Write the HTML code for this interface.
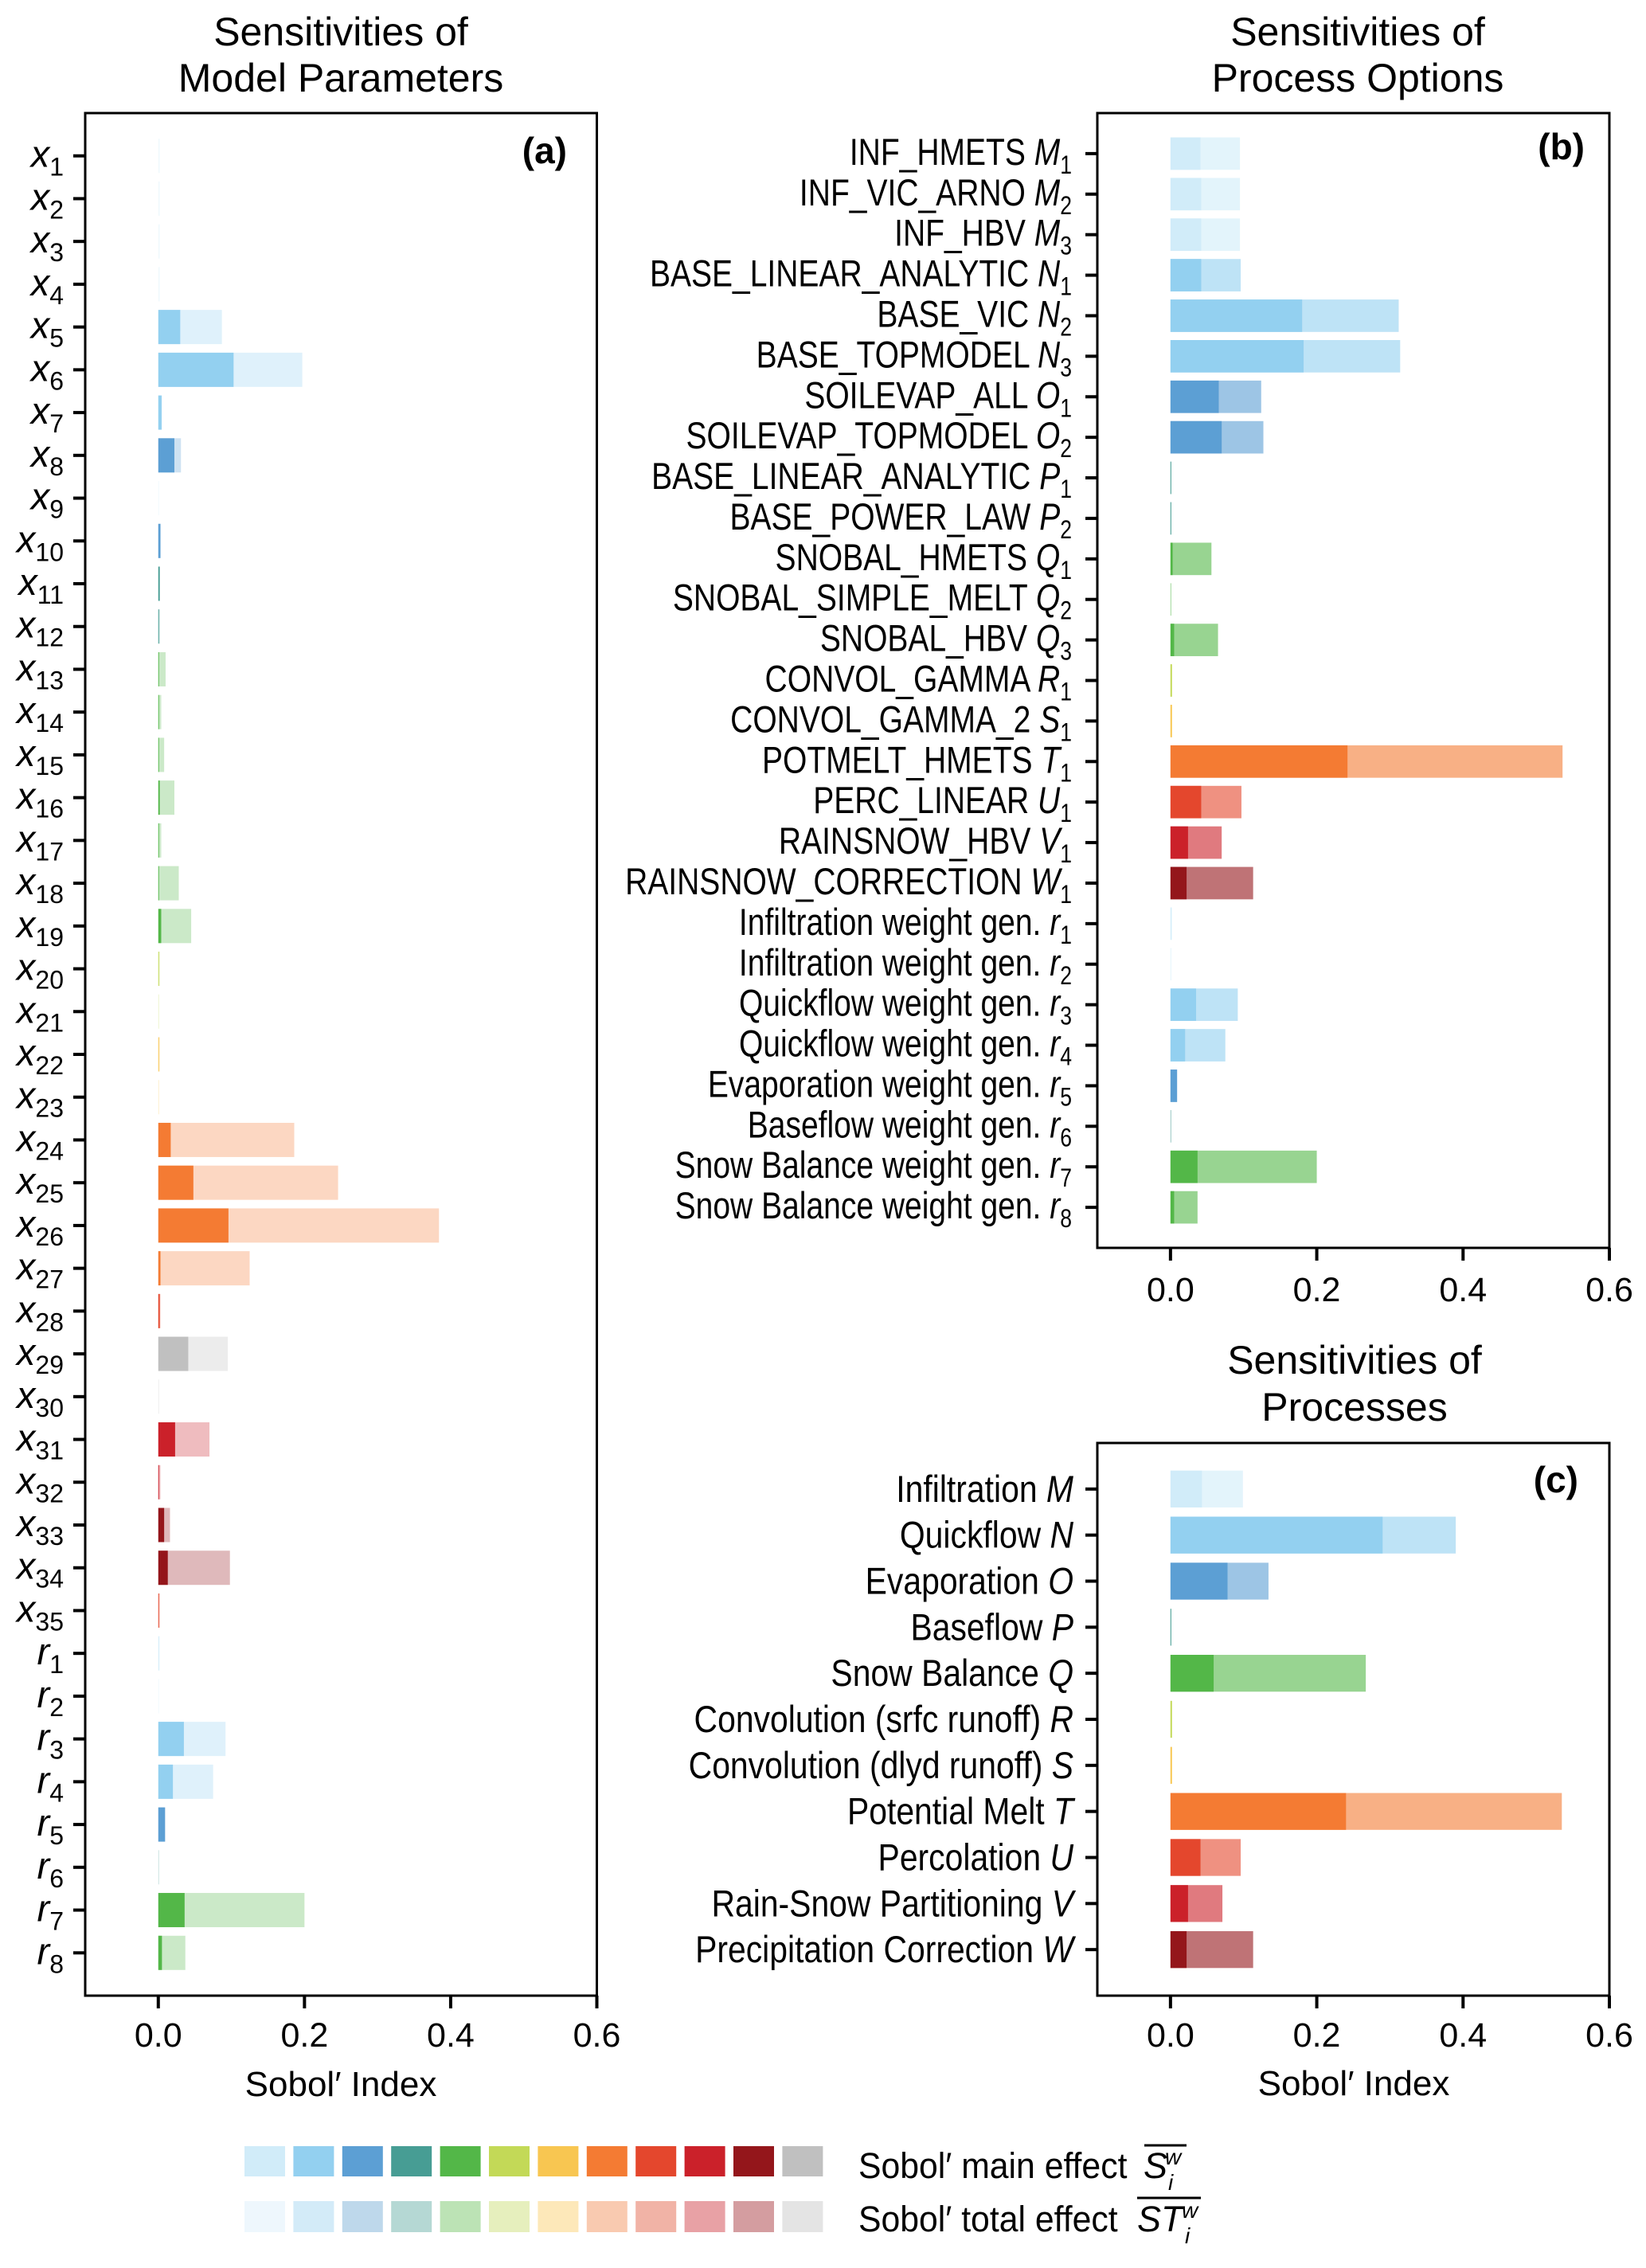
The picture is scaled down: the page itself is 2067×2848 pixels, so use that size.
<!DOCTYPE html>
<html>
<head>
<meta charset="utf-8">
<style>
  html, body { margin: 0; padding: 0; background: #fff; }
  svg { display: block; font-family: "Liberation Sans", sans-serif; }
</style>
</head>
<body>
<svg id="fig" xmlns="http://www.w3.org/2000/svg" width="2067" height="2848" viewBox="0 0 2067 2848">
  <rect x="0" y="0" width="2067" height="2848" fill="#fff"/>
  <g id="panelA"></g>
  <g id="panelB"></g>
  <g id="panelC"></g>
  <g id="legend"></g>
</svg>
<script>
const NS = "http://www.w3.org/2000/svg";
const mainColors = ["#d1ecf9","#93d0f0","#5c9fd4","#479d94","#53b748","#c3d957","#f8c651","#f47b33","#e4472d","#cb212a","#94161b","#c0c0c0"];
const legendTotalColors = ["#eef7fd","#d3ebf8","#bed8eb","#b5d8d4","#bce3b5","#e6efbd","#fde8b9","#f9cab0","#f1b3a6","#e8a1a5","#d49da0","#e4e4e4"];

// Panel (a) data
const aPrefix = ["x","x","x","x","x","x","x","x","x","x","x","x","x","x","x","x","x","x","x","x","x","x","x","x","x","x","x","x","x","x","x","x","x","x","x","r","r","r","r","r","r","r","r"];
const aSub = ["1","2","3","4","5","6","7","8","9","10","11","12","13","14","15","16","17","18","19","20","21","22","23","24","25","26","27","28","29","30","31","32","33","34","35","1","2","3","4","5","6","7","8"];
const aMain = [0,0,0,0,0.030,0.103,0.0045,0.022,0,0.003,0.002,0.001,0.001,0.001,0.001,0.002,0.001,0.001,0.004,0.001,0,0.001,0,0.017,0.048,0.096,0.003,0.002,0.041,0,0.023,0.001,0.008,0.013,0.001,0.001,0,0.035,0.020,0.009,0,0.036,0.005];
const aTotal = [0.002,0.002,0.002,0.002,0.087,0.197,0.005,0.031,0.001,0.003,0.002,0.002,0.010,0.004,0.008,0.022,0.004,0.028,0.045,0.002,0.001,0.002,0.001,0.186,0.246,0.384,0.125,0.003,0.095,0.001,0.070,0.003,0.016,0.098,0.002,0.002,0.001,0.092,0.075,0.010,0.001,0.200,0.037];
const aColor = [0,0,0,0,1,1,1,2,0,2,3,3,4,4,4,4,4,4,4,5,5,6,6,7,7,7,7,8,11,11,9,9,10,10,8,0,0,1,1,2,3,4,4];

// Panel (b) data
const bNames = ["INF_HMETS","INF_VIC_ARNO","INF_HBV","BASE_LINEAR_ANALYTIC","BASE_VIC","BASE_TOPMODEL","SOILEVAP_ALL","SOILEVAP_TOPMODEL","BASE_LINEAR_ANALYTIC","BASE_POWER_LAW","SNOBAL_HMETS","SNOBAL_SIMPLE_MELT","SNOBAL_HBV","CONVOL_GAMMA","CONVOL_GAMMA_2","POTMELT_HMETS","PERC_LINEAR","RAINSNOW_HBV","RAINSNOW_CORRECTION","Infiltration weight gen.","Infiltration weight gen.","Quickflow weight gen.","Quickflow weight gen.","Evaporation weight gen.","Baseflow weight gen.","Snow Balance weight gen.","Snow Balance weight gen."];
const bSym = ["M","M","M","N","N","N","O","O","P","P","Q","Q","Q","R","S","T","U","V","W","r","r","r","r","r","r","r","r"];
const bSub = ["1","2","3","1","2","3","1","2","1","2","1","2","3","1","1","1","1","1","1","1","2","3","4","5","6","7","8"];
const bMain = [0.041,0.042,0.042,0.042,0.180,0.182,0.066,0.070,0.001,0.001,0.003,0,0.005,0.002,0.002,0.242,0.042,0.024,0.022,0.001,0,0.035,0.020,0.009,0,0.037,0.005];
const bTotal = [0.095,0.095,0.095,0.096,0.312,0.314,0.124,0.127,0.001,0.001,0.056,0.001,0.065,0.002,0.002,0.536,0.097,0.070,0.113,0.002,0.001,0.092,0.075,0.009,0.001,0.200,0.037];
const bColor = [0,0,0,1,1,1,2,2,3,3,4,4,4,5,6,7,8,9,10,0,0,1,1,2,3,4,4];

// Panel (c) data
const cNames = ["Infiltration","Quickflow","Evaporation","Baseflow","Snow Balance","Convolution (srfc runoff)","Convolution (dlyd runoff)","Potential Melt","Percolation","Rain-Snow Partitioning","Precipitation Correction"];
const cSym = ["M","N","O","P","Q","R","S","T","U","V","W"];
const cMain = [0.043,0.290,0.078,0.001,0.059,0.002,0.002,0.240,0.041,0.024,0.022];
const cTotal = [0.099,0.390,0.134,0.001,0.267,0.002,0.002,0.535,0.096,0.071,0.113];

const xTicks = [0.0, 0.2, 0.4, 0.6];
const xTickLabels = ["0.0","0.2","0.4","0.6"];

function mk(tag, attrs, parent) {
  const e = document.createElementNS(NS, tag);
  for (const k in attrs) e.setAttribute(k, attrs[k]);
  if (parent) parent.appendChild(e);
  return e;
}
function blend(hex, a) {
  const r = parseInt(hex.slice(1,3),16), g = parseInt(hex.slice(3,5),16), b = parseInt(hex.slice(5,7),16);
  const f = v => Math.round(255 - (255 - v) * a);
  return "rgb(" + f(r) + "," + f(g) + "," + f(b) + ")";
}

function drawPanel(g, cfg) {
  const {left, right, top, bottom, n, main, total, colors, totalAlpha} = cfg;
  const xS = v => left + (v + 0.1) / 0.7 * (right - left);
  const step = (bottom - top) / (n + 1);
  const yS = i => top + (i + 1) * step;
  const bh = step * 0.8;
  for (let i = 0; i < n; i++) {
    const col = mainColors[colors[i]];
    const t = mk("rect", {x: xS(0), y: yS(i) - bh/2, width: Math.max(0.8, xS(total[i]) - xS(0)), height: bh, fill: blend(col, totalAlpha)}, g);
    
    
    if (main[i] > 0) {
      const m = mk("rect", {x: xS(0), y: yS(i) - bh/2, width: xS(main[i]) - xS(0), height: bh, fill: col}, g);
      
      
    }
    const tk = mk("line", {x1: left - 15, x2: left, y1: yS(i), y2: yS(i), stroke: "#000", "stroke-width": 4}, g);
    
    
    const lbl = cfg.label(i, yS(i));
    g.appendChild(lbl);
  }
  const fr = mk("rect", {x: left, y: top, width: right - left, height: bottom - top, fill: "none", stroke: "#000", "stroke-width": 3}, g);
  
  
  xTicks.forEach((v, k) => {
    const tl = mk("line", {x1: xS(v), x2: xS(v), y1: bottom, y2: bottom + 16, stroke: "#000", "stroke-width": 4}, g);
    
    
    const tx = mk("text", {x: xS(v), y: cfg.tickBase, "text-anchor": "middle", "font-size": 43}, g);
    tx.textContent = xTickLabels[k];
    
    
  });
}

function labelA(i, y) {
  const t = document.createElementNS(NS, "text");
  t.setAttribute("x", 80); t.setAttribute("y", y + 14);
  t.setAttribute("text-anchor", "end"); t.setAttribute("font-size", 47);
  const s1 = mk("tspan", {"font-style": "italic"}, t); s1.textContent = aPrefix[i];
  const s2 = mk("tspan", {dy: 11, "font-size": 32}, t); s2.textContent = aSub[i];
  
  
  return t;
}
function labelB(i, y) {
  const t = document.createElementNS(NS, "text");
  t.setAttribute("x", 0); t.setAttribute("y", 0);
  t.setAttribute("transform", "translate(1346," + (y + 14) + ") scale(0.83,1)");
  t.setAttribute("text-anchor", "end"); t.setAttribute("font-size", 47);
  const s0 = mk("tspan", {}, t); s0.textContent = bNames[i] + " ";
  const s1 = mk("tspan", {"font-style": "italic"}, t); s1.textContent = bSym[i];
  const s2 = mk("tspan", {dy: 11, "font-size": 32}, t); s2.textContent = bSub[i];
  
  
  return t;
}
function labelC(i, y) {
  const t = document.createElementNS(NS, "text");
  t.setAttribute("x", 0); t.setAttribute("y", 0);
  t.setAttribute("transform", "translate(1348," + (y + 16) + ") scale(0.87,1)");
  t.setAttribute("text-anchor", "end"); t.setAttribute("font-size", 47);
  const s0 = mk("tspan", {}, t); s0.textContent = cNames[i] + " ";
  const s1 = mk("tspan", {"font-style": "italic"}, t); s1.textContent = cSym[i];
  
  
  return t;
}

const gA = document.getElementById("panelA");
const gB = document.getElementById("panelB");
const gC = document.getElementById("panelC");

drawPanel(gA, {left: 107, right: 749.5, top: 142, bottom: 2506, n: aMain.length, main: aMain, total: aTotal, colors: aColor, totalAlpha: 0.3, label: labelA, tickBase: 2570});
drawPanel(gB, {left: 1378, right: 2021, top: 142, bottom: 1567, n: bMain.length, main: bMain, total: bTotal, colors: bColor, totalAlpha: 0.6, label: labelB, tickBase: 1634});
const cColor = cMain.map((_, i) => i);
drawPanel(gC, {left: 1378, right: 2021, top: 1812, bottom: 2506, n: cMain.length, main: cMain, total: cTotal, colors: cColor, totalAlpha: 0.6, label: labelC, tickBase: 2570});

function addText(parent, x, y, str, size, extra, name) {
  const t = mk("text", Object.assign({x: x, y: y, "font-size": size}, extra || {}), parent);
  t.textContent = str;
  
  
  return t;
}
// Titles
addText(gA, 428, 57, "Sensitivities of", 50, {"text-anchor": "middle"}, "panel-a-title-line1");
addText(gA, 428, 115, "Model Parameters", 50, {"text-anchor": "middle"}, "panel-a-title-line2");
addText(gB, 1705, 57, "Sensitivities of", 50, {"text-anchor": "middle"}, "panel-b-title-line1");
addText(gB, 1705, 115, "Process Options", 50, {"text-anchor": "middle"}, "panel-b-title-line2");
addText(gC, 1701, 1725, "Sensitivities of", 50, {"text-anchor": "middle"}, "panel-c-title-line1");
addText(gC, 1701, 1784, "Processes", 50, {"text-anchor": "middle"}, "panel-c-title-line2");
// Panel letters
addText(gA, 712, 205, "(a)", 46, {"text-anchor": "end", "font-weight": "bold"}, "panel-letter-a");
addText(gB, 1990, 200, "(b)", 46, {"text-anchor": "end", "font-weight": "bold"}, "panel-letter-b");
addText(gC, 1982, 1874, "(c)", 46, {"text-anchor": "end", "font-weight": "bold"}, "panel-letter-c");
// x labels
addText(gA, 428, 2632, "Sobol\u2032 Index", 44, {"text-anchor": "middle"}, "x-axis-title-a");
addText(gC, 1700, 2631, "Sobol\u2032 Index", 44, {"text-anchor": "middle"}, "x-axis-title-c");

// Legend
const lg = document.getElementById("legend");
for (let k = 0; k < 12; k++) {
  const x = 307 + k * 61.4;
  const r1 = mk("rect", {x: x, y: 2695, width: 51, height: 38, fill: mainColors[k]}, lg);
  
  
  const r2 = mk("rect", {x: x, y: 2764, width: 51, height: 39, fill: legendTotalColors[k]}, lg);
  
  
}
function legendEntry(y, words, sym, symX, supX, name) {
  const t = mk("text", {x: 0, y: 0, "font-size": 45, transform: "translate(1078," + y + ") scale(0.95,1)"}, lg);
  t.textContent = words;
  
  
  const s = mk("text", {x: symX, y: y, "font-size": 45, "font-style": "italic"}, lg);
  s.textContent = sym;
  
  
  const w = mk("text", {x: supX, y: y - 17, "font-size": 28, "font-style": "italic"}, lg);
  w.textContent = "w";
  
  
  const i = mk("text", {x: supX + 4, y: y + 15, "font-size": 28, "font-style": "italic"}, lg);
  i.textContent = "i";
  
  
}
legendEntry(2735, "Sobol\u2032 main effect", "S", 1436, 1463, "legend-main-effect-label");
legendEntry(2802, "Sobol\u2032 total effect", "ST", 1428, 1484, "legend-total-effect-label");
const o1 = mk("line", {x1: 1437, x2: 1490, y1: 2694, y2: 2694, stroke: "#000", "stroke-width": 3}, lg);


const o2 = mk("line", {x1: 1428, x2: 1508, y1: 2760, y2: 2760, stroke: "#000", "stroke-width": 3}, lg);


</script>
</body>
</html>
